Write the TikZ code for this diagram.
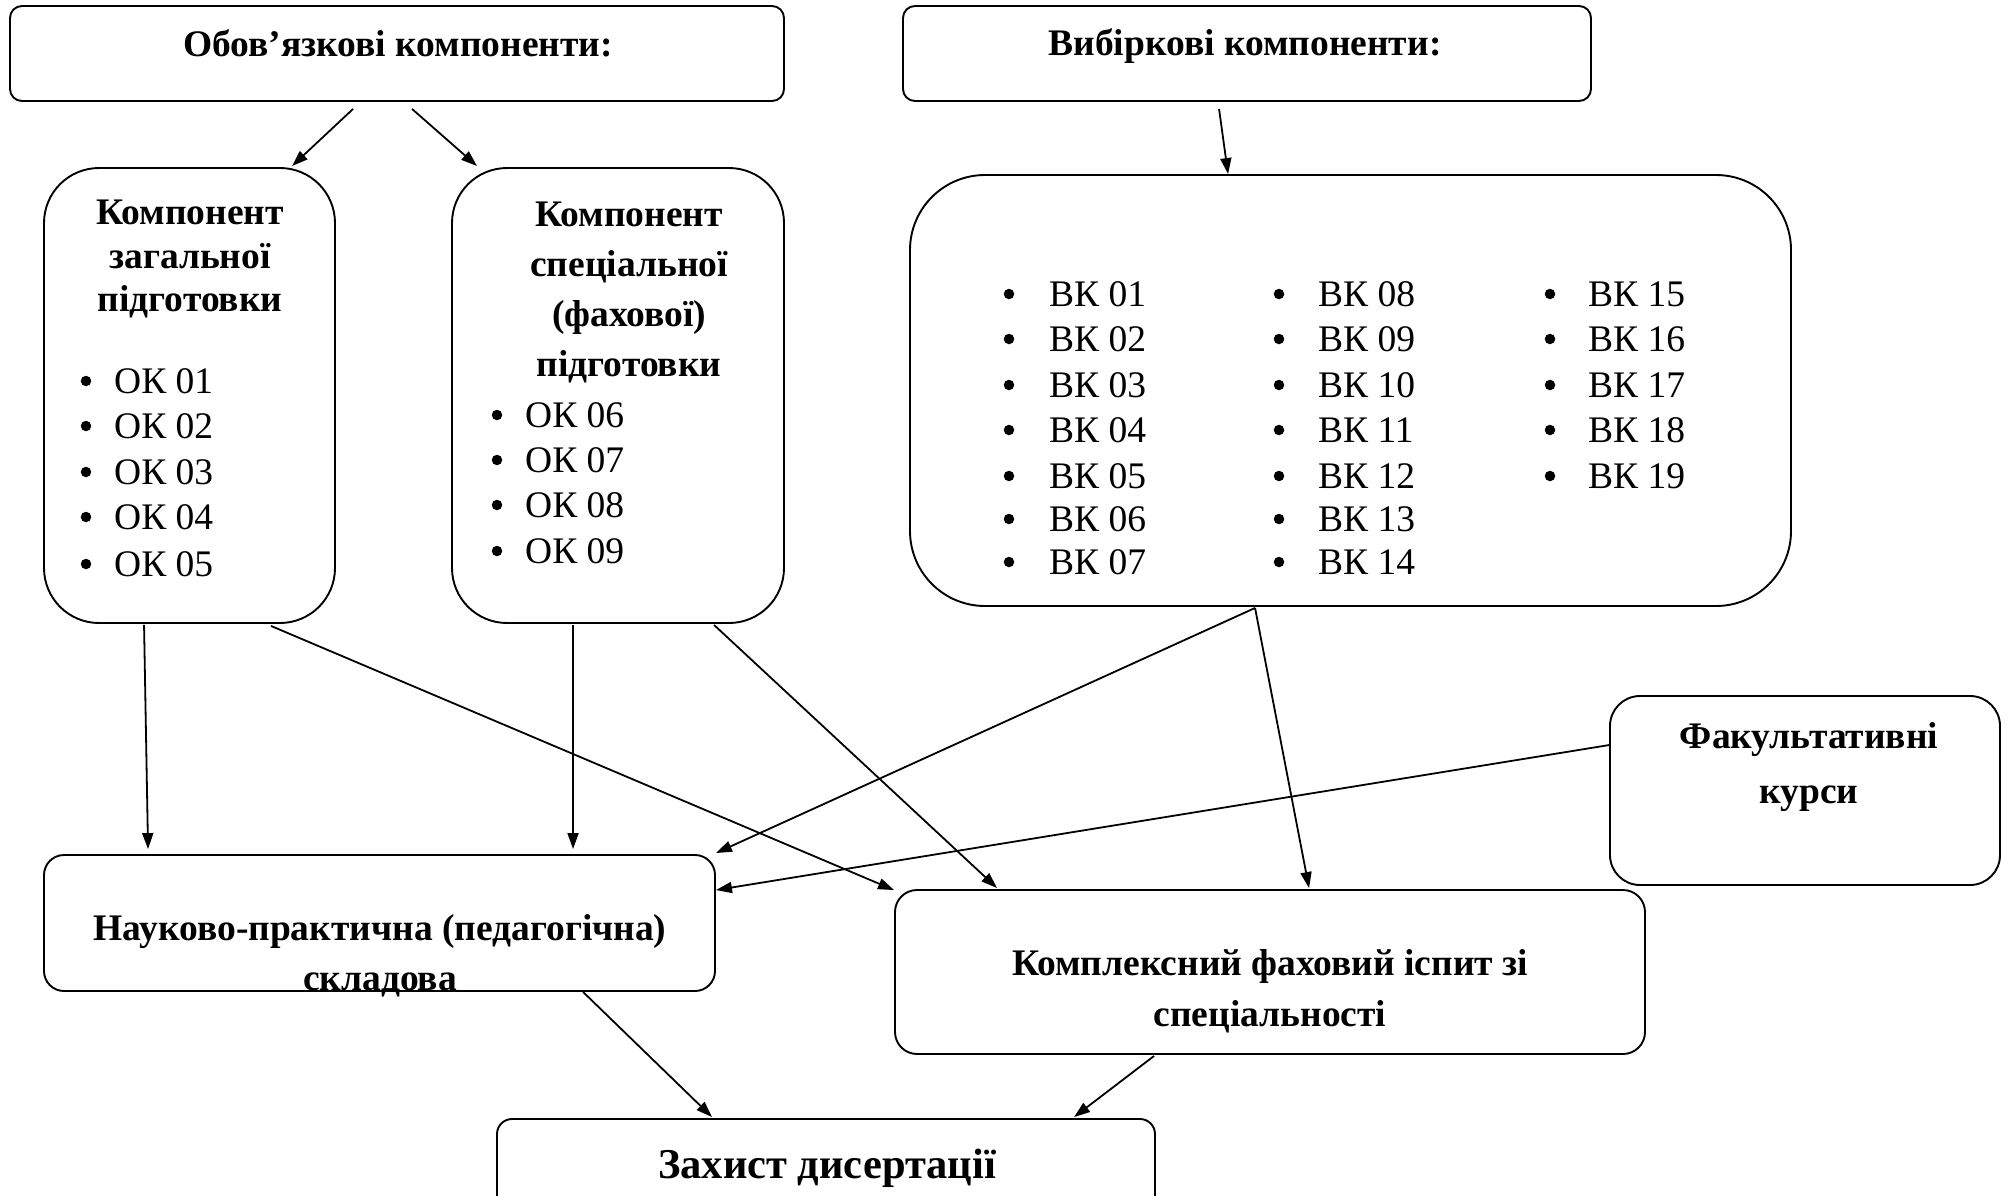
\documentclass[tikz,border=0pt]{standalone}
\usepackage{fontspec}
\setmainfont{Liberation Serif}
\usetikzlibrary{arrows.meta,calc}
\begin{document}
\begin{tikzpicture}[x=1pt,y=-1pt,
  box/.style={draw, line width=1.9pt, inner sep=0pt},
  ttl/.style={font=\bfseries\fontsize{37.5}{43.5}\selectfont, align=center, inner sep=0pt},
  itm/.style={font=\fontsize{37.5}{43}\selectfont, anchor=west, inner sep=0pt},
  bul/.style={circle, fill, inner sep=0pt, minimum size=10.5pt},
  arr/.style={-{Triangle[length=16pt,width=11pt]}, line width=1.8pt}]
\useasboundingbox (0,0) rectangle (2013,1195);
% boxes
\node[box, rounded corners=12pt, minimum width=774pt, minimum height=95pt] (b1) at (397,53.5) {};
\node[box, rounded corners=12pt, minimum width=688pt, minimum height=95pt] (b2) at (1247,53.5) {};
\node[box, rounded corners=55pt, minimum width=291pt, minimum height=455pt] (b3) at (189.5,395.5) {};
\node[box, rounded corners=55pt, minimum width=332pt, minimum height=455pt] (b4) at (618,395.5) {};
\node[box, rounded corners=75pt, minimum width=881pt, minimum height=431pt] (b5) at (1350.5,390.5) {};
\node[box, rounded corners=30pt, minimum width=390pt, minimum height=189pt] (b6) at (1805,790.5) {};
\node[box, rounded corners=20pt, minimum width=671pt, minimum height=136pt] (b7) at (379.5,923) {};
\node[box, rounded corners=22pt, minimum width=750pt, minimum height=164pt] (b8) at (1270,972) {};
\node[box, rounded corners=15pt, minimum width=658pt, minimum height=96pt] (b9) at (826,1167) {};
% titles
\node[ttl] (t1) at (398,43) {Обов’язкові компоненти:};
\node[ttl] (t2) at (1245,46) {Вибіркові компоненти:};
\node[ttl] (t3) at (190,259) {Компонент\\загальної\\підготовки};
\node[ttl, font=\bfseries\fontsize{37.5}{50}\selectfont] (t4) at (629,292) {Компонент\\спеціальної\\(фахової)\\підготовки};
\node[ttl] (t6) at (1809,767) {Факультативні\\\rule{0pt}{45pt}курси};
\node[ttl, font=\bfseries\fontsize{37.5}{50}\selectfont] (t7) at (380,956) {Науково-практична (педагогічна)\\складова};
\node[ttl, font=\bfseries\fontsize{37.5}{51}\selectfont] (t8) at (1270,991) {Комплексний фаховий іспит зі\\спеціальності};
\node[ttl, font=\bfseries\fontsize{42.5}{48}\selectfont] (t9) at (827,1168) {Захист дисертації};
% OK lists
\foreach \n/\y in {01/381,02/426,03/472,04/517,05/564}{
  \node[bul] (ob\n) at (86,\y) {};
  \node[itm] (ok\n) at (114,\y) {ОК \n};
}
\foreach \n/\y in {06/415,07/460,08/505,09/551}{
  \node[bul] (ob\n) at (497,\y) {};
  \node[itm] (ok\n) at (525,\y) {ОК \n};
}
% VK lists
\foreach \a/\b/\c/\y in {01/08/15/294,02/09/16/339,03/10/17/385,04/11/18/430,05/12/19/476}{
  \node[bul] (vb\a) at (1009,\y) {};
  \node[itm] (vk\a) at (1049,\y) {ВК \a};
  \node[bul] (vb\b) at (1279,\y) {};
  \node[itm] (vk\b) at (1318,\y) {ВК \b};
  \node[bul] (vb\c) at (1550,\y) {};
  \node[itm] (vk\c) at (1588,\y) {ВК \c};
}
\foreach \a/\b/\y in {06/13/519,07/14/562}{
  \node[bul] (vb\a) at (1009,\y) {};
  \node[itm] (vk\a) at (1049,\y) {ВК \a};
  \node[bul] (vb\b) at (1279,\y) {};
  \node[itm] (vk\b) at (1318,\y) {ВК \b};
}
% arrows
\draw[arr] ($(b1.south west)+(344,7)$) -- ($(b3.north west)+(249,-1)$);
\draw[arr] ($(b1.south west)+(403,7)$) -- ($(b4.north west)+(26,-1)$);
\draw[arr] ($(b2.south west)+(317,7)$) -- ($(b5.north west)+(319,0)$);
\draw[arr] ($(b3.south west)+(101,1)$) -- ($(b7.north west)+(105,-5)$);
\draw[arr] ($(b3.south west)+(228,2)$) -- ($(b8.north west)+(0,1)$);
\draw[arr] ($(b4.south west)+(122,1)$) -- ($(b7.north west)+(530,-5)$);
\draw[arr] ($(b4.south west)+(263,1)$) -- ($(b8.north west)+(103,-1)$);
\draw[arr] ($(b5.south west)+(346,1)$) -- ($(b7.north east)+(0,-1)$);
\draw[arr] ($(b5.south west)+(346,1)$) -- ($(b8.north west)+(415,-1)$);
\draw[arr] ($(b6.north west)+(0,50)$) -- ($(b7.north east)+(0,36)$);
\draw[arr] ($(b7.south west)+(540,0)$) -- ($(b9.north west)+(216,-1)$);
\draw[arr] ($(b8.south west)+(260,1)$) -- ($(b9.north west)+(578,-1)$);
\end{tikzpicture}
\end{document}
